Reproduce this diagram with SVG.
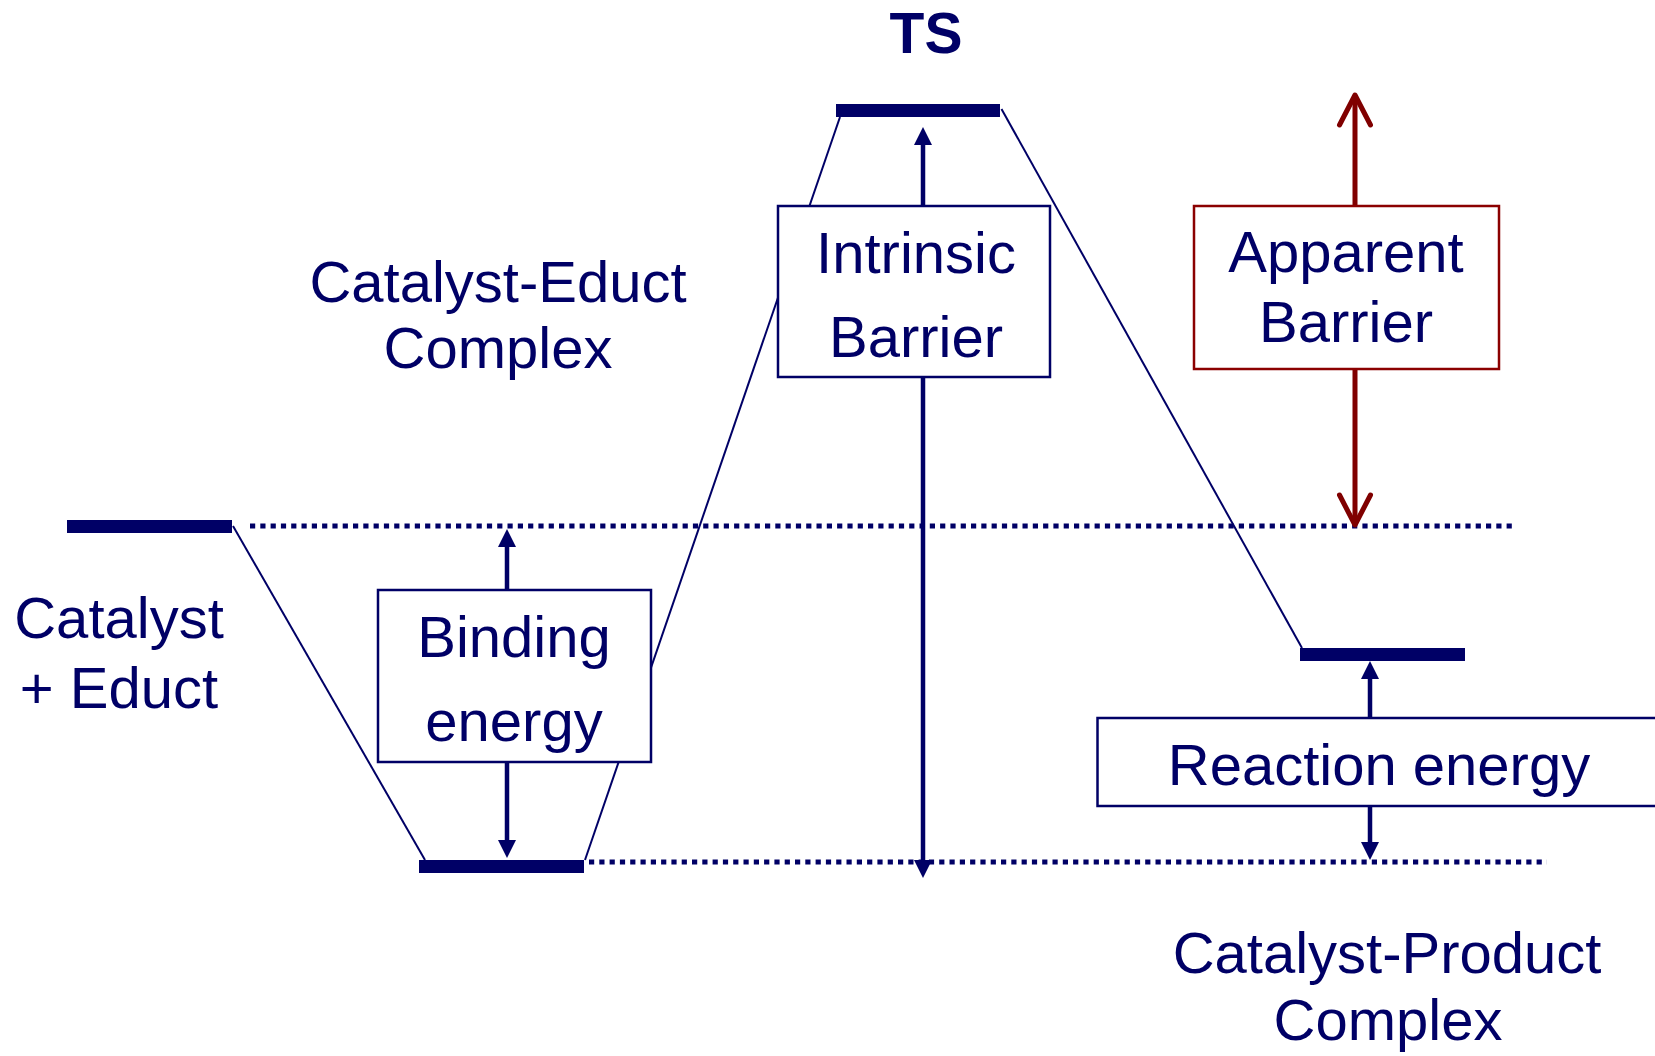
<svg xmlns="http://www.w3.org/2000/svg" width="1655" height="1056" viewBox="0 0 1655 1056">
  <style>
    .lbl { font-family: "Liberation Sans", Arial, Helvetica, sans-serif; font-size: 58px; fill: #000066; text-anchor: middle; }
    .ts { font-weight: bold; font-size: 57px; }
    .box { fill: #ffffff; stroke: #000066; stroke-width: 2.5; }
    .box-red { fill: #ffffff; stroke: #8b0000; stroke-width: 2.5; }
    .level { fill: #000066; }
    .path { stroke: #000066; stroke-width: 2; fill: none; }
    .ref { stroke: #000066; stroke-width: 5; stroke-dasharray: 5.2 5.1; fill: none; }
    .arrow { stroke: #000066; stroke-width: 4.5; fill: none; marker-start: url(#head); marker-end: url(#head); }
    .arrow-red { stroke: #800000; stroke-width: 5; fill: none; marker-start: url(#open); marker-end: url(#open); }
  </style>
  <defs>
    <marker id="head" viewBox="0 0 18 18" markerWidth="18" markerHeight="18" markerUnits="userSpaceOnUse" refX="2" refY="9" orient="auto-start-reverse">
      <path d="M0,0 L18,9 L0,18 z" fill="#000066"/>
    </marker>
    <marker id="open" viewBox="0 0 34 34" markerWidth="34" markerHeight="34" markerUnits="userSpaceOnUse" refX="31" refY="17" orient="auto-start-reverse" overflow="visible">
      <path d="M1,1.5 L31,17 L1,32.5" fill="none" stroke="#800000" stroke-width="5" stroke-linecap="round" stroke-linejoin="round"/>
    </marker>
  </defs>
  <rect width="1655" height="1056" fill="#ffffff"/>

  <!-- reference energy levels and reaction path -->
  <g id="connectors">
    <line class="ref" x1="250" y1="526" x2="1514" y2="526"/>
    <line class="ref" x1="589" y1="862" x2="1547" y2="862"/>
    <line class="path" x1="233" y1="526" x2="425" y2="860"/>
    <line class="path" x1="585" y1="860" x2="840" y2="117"/>
    <line class="path" x1="1001.5" y1="109" x2="1302" y2="648"/>
    <line class="arrow" x1="923" y1="143" x2="923" y2="862"/>
    <line class="arrow" x1="507" y1="545" x2="507" y2="842"/>
    <line class="arrow" x1="1370" y1="677" x2="1370" y2="844"/>
    <line class="arrow-red" x1="1355" y1="95" x2="1355" y2="525"/>
  </g>

  <g id="intrinsic-barrier">
    <rect class="box" x="778" y="206" width="272" height="171"/>
    <text class="lbl" x="916" y="273">Intrinsic</text>
    <text class="lbl" x="916" y="357">Barrier</text>
  </g>

  <g id="binding-energy">
    <rect class="box" x="378" y="590" width="273" height="172"/>
    <text class="lbl" x="514" y="657">Binding</text>
    <text class="lbl" x="514" y="741">energy</text>
  </g>

  <g id="apparent-barrier">
    <rect class="box-red" x="1194" y="206" width="305" height="163"/>
    <text class="lbl" x="1346" y="272">Apparent</text>
    <text class="lbl" x="1346" y="342">Barrier</text>
  </g>

  <g id="reaction-energy">
    <rect class="box" x="1097.5" y="718" width="600" height="88"/>
    <text class="lbl" x="1379" y="785">Reaction energy</text>
  </g>

  <g id="catalyst-educt">
    <rect class="level" x="67" y="520" width="165" height="13"/>
    <text class="lbl" x="119" y="638">Catalyst</text>
    <text class="lbl" x="119" y="708">+ Educt</text>
  </g>

  <g id="catalyst-educt-complex">
    <rect class="level" x="419" y="860" width="165" height="13"/>
    <text class="lbl" x="498" y="302">Catalyst-Educt</text>
    <text class="lbl" x="498" y="368">Complex</text>
  </g>

  <g id="transition-state">
    <rect class="level" x="836" y="104" width="164" height="13"/>
    <text class="lbl ts" x="926" y="53">TS</text>
  </g>

  <g id="catalyst-product-complex">
    <rect class="level" x="1300" y="648" width="165" height="13"/>
    <text class="lbl" x="1387" y="973">Catalyst-Product</text>
    <text class="lbl" x="1388" y="1040">Complex</text>
  </g>
</svg>
